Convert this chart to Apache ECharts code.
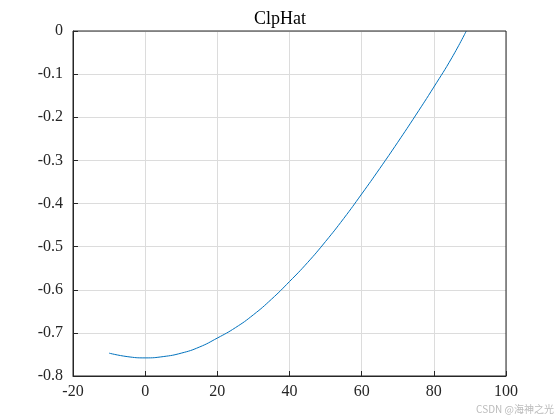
<!DOCTYPE html>
<html>
<head>
<meta charset="utf-8">
<script src="https://cdn.jsdelivr.net/npm/echarts@6/dist/echarts.min.js"></script>
<style>html,body{margin:0;background:#fff}#c{width:560px;height:420px}</style>
</head>
<body>
<div id="c"></div>
<script>
// curve samples
const xs = [-10, -5, 0, 5, 10, 15, 20, 25, 30, 35, 40, 45, 50, 55, 60, 65, 70, 75, 80, 85, 89]
const ys = [-0.747, -0.755, -0.758, -0.755, -0.747, -0.733, -0.712, -0.688, -0.658, -0.622, -0.581, -0.537, -0.488, -0.435, -0.378, -0.319, -0.258, -0.195, -0.130, -0.062, 0]
const xTicks = [-20, 0, 20, 40, 60, 80, 100]

const font = 'Liberation Serif'
const chart = echarts.init(document.getElementById('c'))
const axisCommon = {
    axisLine: { show: true, onZero: false, lineStyle: { color: '#262626', width: 1 } },
    axisTick: { show: true, inside: true, length: 5, lineStyle: { color: '#262626' } },
    splitLine: { show: true, lineStyle: { color: '#dcdcdc', width: 1 } },
    axisLabel: { color: '#262626', fontFamily: font, fontSize: 16 }
}
chart.setOption({
    animation: false,
    title: { text: 'ClpHat', left: 'center', top: 5, textStyle: { fontFamily: font, fontSize: 18, fontWeight: 'normal', color: '#000' } },
    grid: { left: 73, right: 54, top: 31, bottom: 44 },
    xAxis: Object.assign({ type: 'value', min: xTicks[0], max: xTicks[xTicks.length - 1], interval: 20 }, axisCommon,
        { axisLabel: Object.assign({}, axisCommon.axisLabel, { margin: 8 }) }),
    yAxis: Object.assign({ type: 'value', min: -0.8, max: 0, interval: 0.1 }, axisCommon,
        { axisLabel: Object.assign({}, axisCommon.axisLabel, { margin: 10, formatter: v => +v.toFixed(1) + '' }) }),
    graphic: [
        { type: 'rect', shape: { x: 73, y: 31, width: 433, height: 345 }, style: { fill: 'none', stroke: '#262626', lineWidth: 1 }, z: 100 },
        { type: 'text', right: 6, bottom: 6, style: { text: 'CSDN @海神之光', fill: '#bbb', font: '10px "Noto Sans CJK SC"' } }
    ],
    series: [{
        type: 'line',
        data: xs.map((x, i) => [x, ys[i]]),
        smooth: true,
        showSymbol: false,
        lineStyle: { color: '#0072bd', width: 1 }
    }]
})
</script>
</body>
</html>
